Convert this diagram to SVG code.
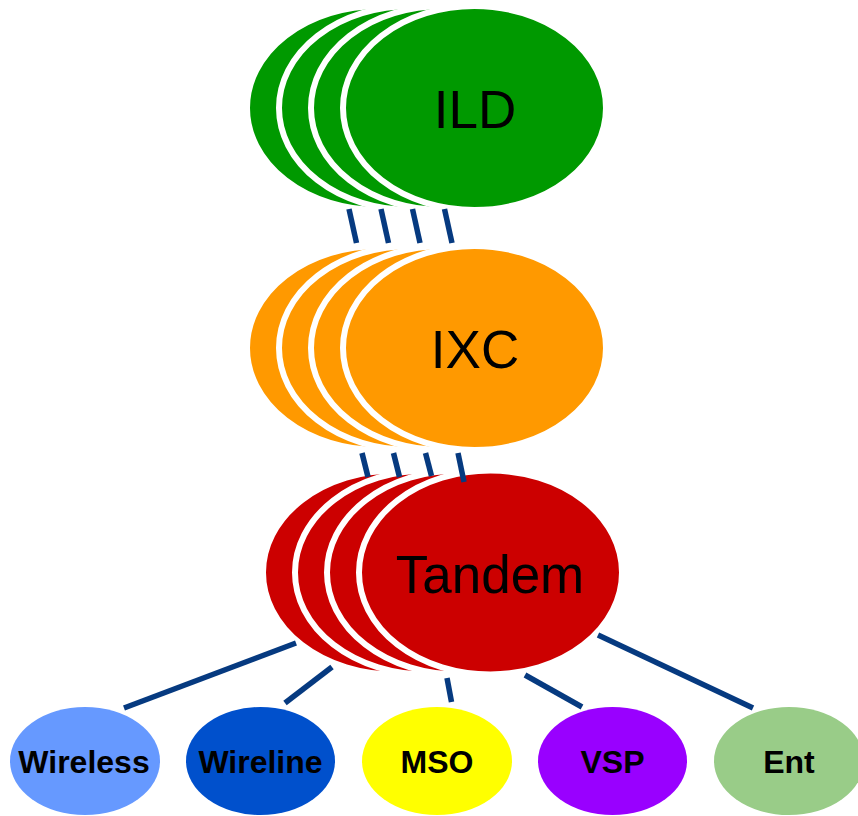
<svg xmlns="http://www.w3.org/2000/svg" width="858" height="816" viewBox="0 0 858 816">
<defs>
<style>
.stk{stroke:#ffffff;stroke-width:6}
.ild{fill:#009900}
.ixc{fill:#FF9900}
.tan{fill:#CC0000}
.big{font-family:"Liberation Sans",Arial,sans-serif;font-size:53px;fill:#000000;text-anchor:middle}
.small{font-family:"Liberation Sans",Arial,sans-serif;font-size:32px;font-weight:bold;fill:#000000;text-anchor:middle}
.conn line{stroke:#063A80;stroke-width:5.5;stroke-linecap:butt}
</style>
</defs>
<rect width="858" height="816" fill="#ffffff"/>
<g id="ILD">
<ellipse class="stk ild" cx="378.5" cy="108" rx="131.5" ry="102"/>
<ellipse class="stk ild" cx="410.5" cy="108" rx="131.5" ry="102"/>
<ellipse class="stk ild" cx="442.5" cy="108" rx="131.5" ry="102"/>
<ellipse class="stk ild" cx="474.5" cy="108" rx="131.5" ry="102"/>
<text class="big" x="475" y="128">ILD</text>
</g>
<g id="IXC">
<ellipse class="stk ixc" cx="378.5" cy="348" rx="131.5" ry="102"/>
<ellipse class="stk ixc" cx="410.5" cy="348" rx="131.5" ry="102"/>
<ellipse class="stk ixc" cx="442.5" cy="348" rx="131.5" ry="102"/>
<ellipse class="stk ixc" cx="474.5" cy="348" rx="131.5" ry="102"/>
<text class="big" x="475" y="368">IXC</text>
</g>
<g id="Tandem">
<ellipse class="stk tan" cx="394.5" cy="572.5" rx="131.5" ry="102"/>
<ellipse class="stk tan" cx="426.5" cy="572.5" rx="131.5" ry="102"/>
<ellipse class="stk tan" cx="458.5" cy="572.5" rx="131.5" ry="102"/>
<ellipse class="stk tan" cx="490.5" cy="572.5" rx="131.5" ry="102"/>
<text class="big" x="490" y="593">Tandem</text>
</g>
<g id="Wireless">
<ellipse cx="85" cy="761" rx="75" ry="54" fill="#6699FF"/>
<text class="small" x="84" y="773">Wireless</text>
</g>
<g id="Wireline">
<ellipse cx="260.5" cy="761" rx="74.5" ry="54" fill="#0050CC"/>
<text class="small" x="260.5" y="773">Wireline</text>
</g>
<g id="MSO">
<ellipse cx="437" cy="761" rx="75" ry="54" fill="#FFFF00"/>
<text class="small" x="437" y="773">MSO</text>
</g>
<g id="VSP">
<ellipse cx="612.5" cy="761" rx="74.5" ry="54" fill="#9900FF"/>
<text class="small" x="612.5" y="773">VSP</text>
</g>
<g id="Ent">
<ellipse cx="789" cy="761" rx="75" ry="54" fill="#99CC88"/>
<text class="small" x="789" y="773">Ent</text>
</g>
<g id="connectors" class="conn">
<line x1="349" y1="209" x2="356.5" y2="243"/>
<line x1="381" y1="209" x2="388.5" y2="243"/>
<line x1="412.5" y1="209" x2="420" y2="243"/>
<line x1="444.5" y1="209" x2="452" y2="243"/>
<line x1="362" y1="453" x2="368" y2="477"/>
<line x1="393.5" y1="453" x2="399.5" y2="477"/>
<line x1="425.5" y1="453" x2="431.5" y2="476"/>
<line x1="458" y1="453" x2="464" y2="482"/>
<line x1="296" y1="643" x2="124" y2="708"/>
<line x1="332" y1="667" x2="285" y2="703"/>
<line x1="447" y1="678" x2="451.5" y2="702"/>
<line x1="525" y1="675" x2="582" y2="707"/>
<line x1="598" y1="635" x2="753" y2="708"/>
</g>
</svg>
